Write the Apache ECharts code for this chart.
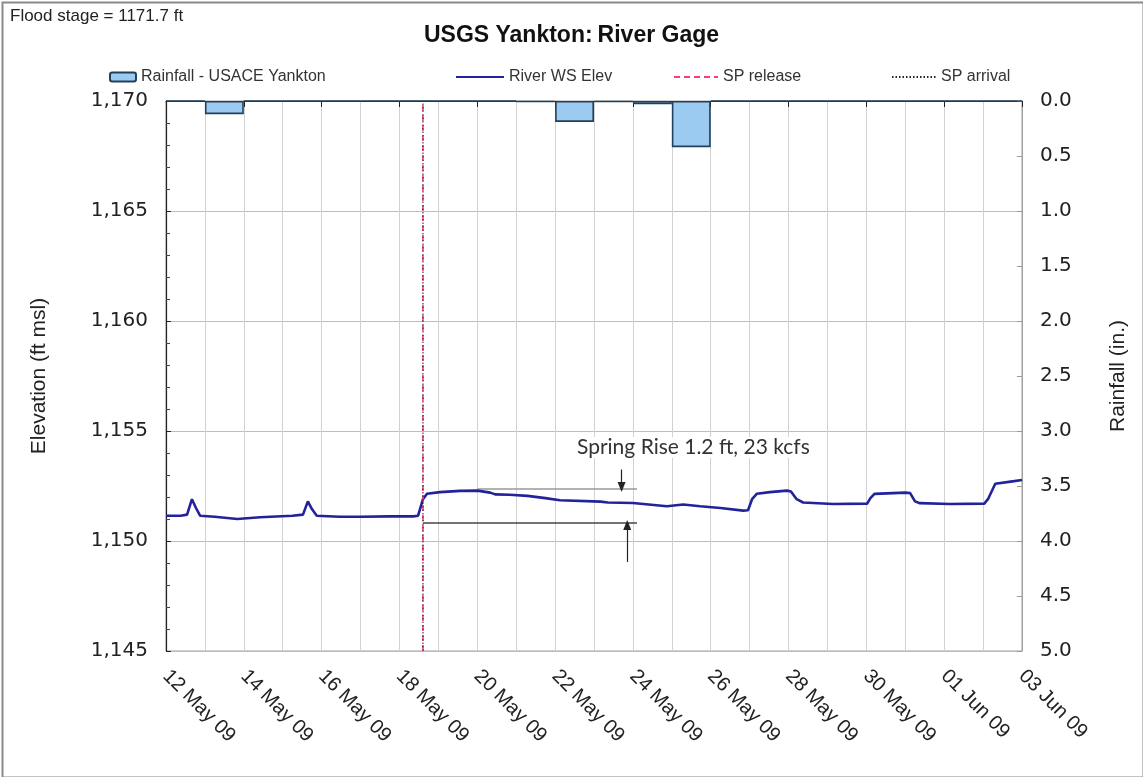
<!DOCTYPE html>
<html><head><meta charset="utf-8">
<script src="https://cdn.jsdelivr.net/npm/echarts@6/dist/echarts.min.js"></script>
<style>html,body{margin:0;padding:0;background:#fff}#c{width:1143px;height:777px}</style>
</head><body><div id="c"></div><script>
// ---------- data ----------
const startDate = '2009-05-12 00:00';
const tickLabels = ['12 May 09','14 May 09','16 May 09','18 May 09','20 May 09','22 May 09','24 May 09','26 May 09','28 May 09','30 May 09','01 Jun 09','03 Jun 09'];
const rainDays = ['12 May','13 May','14 May','15 May','16 May','17 May','18 May','19 May','20 May','21 May','22 May','23 May','24 May','25 May','26 May','27 May','28 May','29 May','30 May','31 May','01 Jun','02 Jun'];
const rainfall = [0,0.12,0,0,0,0,0,0,0,0.01,0.19,0.01,0.03,0.42,0,0,0,0,0,0,0,0];
const riverTimes = ['2009-05-12 00:00','2009-05-12 09:00','2009-05-12 13:00','2009-05-12 16:00','2009-05-12 18:30','2009-05-12 21:00','2009-05-13 06:00','2009-05-13 20:00','2009-05-14 10:00','2009-05-15 06:00','2009-05-15 12:30','2009-05-15 15:30','2009-05-15 18:00','2009-05-15 21:00','2009-05-16 11:00','2009-05-17 00:00','2009-05-17 18:00','2009-05-18 08:30','2009-05-18 11:30','2009-05-18 14:30','2009-05-18 17:00','2009-05-19 01:00','2009-05-19 13:30','2009-05-20 00:00','2009-05-20 08:00','2009-05-20 11:00','2009-05-20 20:00','2009-05-21 07:00','2009-05-21 18:00','2009-05-22 03:00','2009-05-23 04:00','2009-05-23 08:30','2009-05-24 00:00','2009-05-24 21:00','2009-05-25 07:00','2009-05-25 17:30','2009-05-26 06:00','2009-05-26 20:00','2009-05-26 23:00','2009-05-27 01:30','2009-05-27 04:30','2009-05-27 12:30','2009-05-27 23:00','2009-05-28 01:30','2009-05-28 05:00','2009-05-28 09:00','2009-05-29 03:30','2009-05-30 00:30','2009-05-30 02:30','2009-05-30 05:00','2009-05-31 00:00','2009-05-31 03:00','2009-05-31 06:00','2009-05-31 09:00','2009-06-01 03:30','2009-06-02 00:45','2009-06-02 03:00','2009-06-02 07:30','2009-06-02 17:00','2009-06-03 00:00'];
const riverElev = [1151.15,1151.15,1151.2,1151.9,1151.5,1151.15,1151.1,1151.0,1151.08,1151.15,1151.2,1151.8,1151.45,1151.15,1151.1,1151.1,1151.12,1151.12,1151.15,1151.9,1152.15,1152.22,1152.28,1152.29,1152.2,1152.12,1152.1,1152.05,1151.95,1151.85,1151.79,1151.75,1151.73,1151.58,1151.66,1151.58,1151.5,1151.38,1151.4,1151.9,1152.15,1152.22,1152.29,1152.25,1151.9,1151.75,1151.68,1151.7,1151.95,1152.14,1152.2,1152.18,1151.8,1151.72,1151.68,1151.7,1151.9,1152.6,1152.7,1152.77];
const spReleaseTime = '2009-05-18 14:30';
const spArrivalTime = '2009-05-18 14:30';
const elevRange = [1145, 1170];
const riseUpper = {from:'2009-05-20 00:00', to:'2009-05-24 02:30', elev:1152.36};
const riseLower = {from:'2009-05-18 14:30', to:'2009-05-24 02:30', elev:1150.83};
const arrowDown = {time:'2009-05-23 17:00', from:1153.25, to:1152.45};
const arrowUp = {time:'2009-05-23 20:30', from:1149.05, to:1150.73};
const annotationText = 'Spring Rise 1.2 ft, 23 kcfs';
const titleBold = 'USGS Yankton:';
const titleRest = 'River Gage';
const floodStageText = 'Flood stage = 1171.7 ft';

// ---------- helpers ----------
function toDay(s){
  const p = s.split(/[- :]/).map(Number);
  const q = startDate.split(/[- :]/).map(Number);
  return (Date.UTC(p[0],p[1]-1,p[2],p[3],p[4]) - Date.UTC(q[0],q[1]-1,q[2],q[3],q[4]))/86400000;
}
const riverData = riverTimes.map((t,i)=>[toDay(t), riverElev[i]]);
const FONT = "'Liberation Sans', Arial, sans-serif";
const LABEL = "'DejaVu Sans', sans-serif";
const legendText = {fontFamily:FONT,fontSize:16,color:'#333'};
const hideSymbol = {opacity:0, color:'transparent', borderColor:'transparent'};

const chart = echarts.init(document.getElementById('c'), null, {renderer:'canvas'});
chart.setOption({
  animation:false,
  backgroundColor:'#fff',
  title:{
    text:'{b|'+titleBold+'} {n|'+titleRest+'}',
    left:'center', top:19,
    textStyle:{rich:{
      b:{fontFamily:FONT,fontWeight:'bold',fontSize:23,color:'#111'},
      n:{fontFamily:FONT,fontSize:23,color:'#111'}
    }}
  },
  legend:[
    {data:['Rainfall - USACE Yankton'], left:104, top:64, itemWidth:26, itemHeight:9, itemGap:4, textStyle:legendText},
    {data:['River WS Elev'], left:450, top:64, itemWidth:48, itemHeight:9, textStyle:legendText, itemStyle:hideSymbol},
    {data:['SP release'], left:668, top:64, itemWidth:44, itemHeight:9, textStyle:legendText, itemStyle:hideSymbol},
    {data:['SP arrival'], left:886, top:64, itemWidth:44, itemHeight:9, textStyle:legendText, itemStyle:hideSymbol}
  ],
  grid:{left:166, right:121, top:101, bottom:126, show:true, borderColor:'#a0a0a0', borderWidth:1},
  xAxis:[
    {type:'value', min:0, max:22, interval:2, position:'bottom',
     axisLine:{lineStyle:{color:'#222',width:1.2}},
     axisTick:{inside:false, length:6, lineStyle:{color:'#222'}},
     axisLabel:{rotate:-45, margin:22, fontFamily:FONT, fontSize:20, color:'#222',
       formatter:(v)=>tickLabels[Math.round(v/2)]},
     splitLine:{show:false}},
    {type:'category', data:rainDays, boundaryGap:true, position:'bottom',
     axisLine:{show:false}, axisTick:{show:false}, axisLabel:{show:false},
     splitLine:{show:true, interval:0, lineStyle:{color:'#d2d2d2',width:1}}}
  ],
  yAxis:[
    {type:'value', min:elevRange[0], max:elevRange[1], interval:5, position:'left',
     name:'Elevation (ft msl)', nameLocation:'middle', nameGap:116,
     nameTextStyle:{fontFamily:FONT,fontSize:21,color:'#222'},
     axisLine:{show:true,lineStyle:{color:'#222',width:1.2}},
     axisTick:{show:true,inside:true,length:5,lineStyle:{color:'#222'}},
     minorTick:{show:true,splitNumber:5,length:4,lineStyle:{color:'#444'}},
     axisLabel:{margin:18, fontFamily:LABEL, fontSize:20, color:'#222',
       formatter:(v)=>v.toLocaleString('en-US')},
     splitLine:{show:true,lineStyle:{color:'#bdbdbd',width:1}}},
    {type:'value', min:0, max:5, interval:0.5, inverse:true, position:'right',
     name:'Rainfall (in.)', nameLocation:'middle', nameGap:86,
     nameTextStyle:{fontFamily:FONT,fontSize:21,color:'#222'},
     axisLine:{show:true,lineStyle:{color:'#a0a0a0'}},
     axisTick:{show:true,inside:true,length:5,lineStyle:{color:'#999'}},
     axisLabel:{margin:18, fontFamily:LABEL, fontSize:20, color:'#222',
       formatter:(v)=>v.toFixed(1)},
     splitLine:{show:false}}
  ],
  series:[
    {name:'Rainfall - USACE Yankton', type:'bar', xAxisIndex:1, yAxisIndex:1,
     data:rainfall, barWidth:'100%', barGap:'0%',
     itemStyle:{color:'#9ccbf2', borderColor:'#22405c', borderWidth:1.6}},
    {name:'River WS Elev', type:'line', xAxisIndex:0, yAxisIndex:0,
     data:riverData, symbol:'none', z:5,
     lineStyle:{color:'#22229a', width:2.6},
     markLine:{silent:true, symbol:['none','none'], label:{show:false},
       data:[
         [{coord:[toDay(riseUpper.from),riseUpper.elev], lineStyle:{color:'#999',width:1.5,type:'solid'}},{coord:[toDay(riseUpper.to),riseUpper.elev]}],
         [{coord:[toDay(riseLower.from),riseLower.elev], lineStyle:{color:'#444',width:1.5,type:'solid'}},{coord:[toDay(riseLower.to),riseLower.elev]}],
         [{coord:[toDay(arrowDown.time),arrowDown.from], symbol:'none', lineStyle:{color:'#222',width:1.2,type:'solid'}},{coord:[toDay(arrowDown.time),arrowDown.to], symbol:'triangle', symbolSize:[8,10], symbolRotate:180}],
         [{coord:[toDay(arrowUp.time),arrowUp.from], symbol:'none', lineStyle:{color:'#222',width:1.2,type:'solid'}},{coord:[toDay(arrowUp.time),arrowUp.to], symbol:'triangle', symbolSize:[8,10]}]
       ]}},
    {name:'SP release', type:'line', xAxisIndex:0, yAxisIndex:0,
     data:[[toDay(spReleaseTime),elevRange[0]],[toDay(spReleaseTime),elevRange[1]]],
     symbol:'none', z:6, lineStyle:{color:'#ff3a78', width:1.6, type:[6,4]}},
    {name:'SP arrival', type:'line', xAxisIndex:0, yAxisIndex:0,
     data:[[toDay(spArrivalTime),elevRange[0]],[toDay(spArrivalTime),elevRange[1]]],
     symbol:'none', z:7, lineStyle:{color:'#222', width:1, type:[1.5,2]}}
  ],
  graphic:[
    {type:'rect', left:0, top:0, z:-1, shape:{x:0,y:0,width:1141,height:775}, style:{fill:'none',stroke:'#8a8a8a',lineWidth:2}},
    {type:'text', left:10, top:8, style:{text:floodStageText, fontFamily:FONT, fontSize:17, fill:'#222'}},
    {type:'text', left:577, top:437, z:20, style:{text:annotationText, fontFamily:"Lato, 'Open Sans', sans-serif", fontSize:21, fill:'#333', backgroundColor:'#fff'}}
  ]
});
</script></body></html>
